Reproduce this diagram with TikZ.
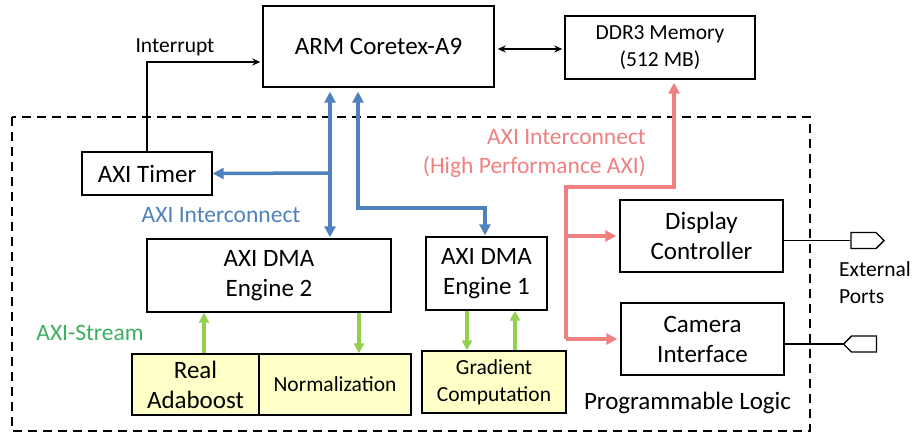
\documentclass[tikz,border=0pt]{standalone}
\usepackage{fontspec}
\setmainfont{Carlito}
\usetikzlibrary{arrows.meta,shapes.symbols}
\usepackage{xcolor}
\definecolor{axiBlue}{RGB}{79,129,189}
\definecolor{hpRed}{RGB}{240,128,128}
\definecolor{streamGreen}{RGB}{146,208,80}
\definecolor{streamText}{RGB}{60,175,95}
\definecolor{accelYellow}{RGB}{255,255,200}
\newcommand\blkfont{\fontsize{25}{30}\selectfont}
\newcommand\midfont{\fontsize{23.5}{29}\selectfont}
\newcommand\smlfont{\fontsize{21.5}{27}\selectfont}

\begin{document}
\begin{tikzpicture}[x=1pt,y=-1pt,
    blk/.style={draw,line width=1.4pt,fill=white,align=center,inner sep=0pt,font=\blkfont},
    accel/.style={blk,fill=accelYellow},
    port/.style={draw,line width=1.4pt,signal,signal from=nowhere,inner sep=0pt,
        minimum width=33pt,minimum height=16pt},
    sig/.style={line width=1.4pt,>={Stealth[length=8pt,width=7pt]}},
    axi/.style={draw=axiBlue,line width=3.5pt,>={Triangle[length=11pt,width=11pt]}},
    hp/.style={draw=hpRed,line width=3.5pt,>={Triangle[length=11pt,width=11pt]}},
    stream/.style={draw=streamGreen,line width=3.2pt,>={Triangle[length=10pt,width=10pt]}}]
    \useasboundingbox (0,0) rectangle (912,432);
    % programmable logic region
    \draw[line width=1.6pt,dash pattern=on 9pt off 6pt] (12,117) rectangle (810,431);
    % blocks
    \node[blk,minimum width=231pt,minimum height=81pt] (arm) at (378.5,46.5) {ARM Coretex-A9};
    \node[blk,font=\smlfont,minimum width=190pt,minimum height=63pt] (ddr) at (660,47.5) {DDR3 Memory\\(512 MB)};
    \node[blk,minimum width=130pt,minimum height=43pt] (timer) at (147,173.5) {AXI Timer};
    \node[blk,minimum width=244pt,minimum height=73pt] (dma2) at (269,275.5) {AXI DMA\\Engine 2};
    \node[blk,minimum width=121pt,minimum height=73pt] (dma1) at (486.5,273.5) {AXI DMA\\Engine 1};
    \node[accel,minimum width=127pt,minimum height=61pt] (ada) at (195.5,384.5) {Real\\Adaboost};
    \node[accel,font=\smlfont,minimum width=152pt,minimum height=61pt] (norm) at (335,384.5) {Normalization};
    \node[accel,font=\smlfont,minimum width=144pt,minimum height=62pt] (grad) at (494,382) {Gradient\\Computation};
    \node[blk,minimum width=163pt,minimum height=72pt] (disp) at (701.5,236) {Display\\Controller};
    \node[blk,minimum width=163pt,minimum height=72pt] (cam) at (702.5,339) {Camera\\Interface};
    \node[port,signal to=east] (port1) at (863.5,240.5) {};
    \node[port,signal to=west] (port2) at (864,344) {};
    % labels
    \node[font=\smlfont] (irqlbl) at (175,47) {Interrupt};
    \node[font=\midfont,text=axiBlue] (axilbl) at (221,215) {AXI Interconnect};
    \node[font=\midfont,text=hpRed,align=right,anchor=east,inner sep=0pt] (hplbl) at (646,153.5) {AXI Interconnect\\(High Performance AXI)};
    \node[font=\midfont,text=streamText] (strlbl) at (90,333) {AXI-Stream};
    \node[font=\smlfont,align=left,anchor=west,inner sep=0pt] (extlbl) at (839,282.5) {External\\Ports};
    \node[font=\blkfont] (pllbl) at (687.5,403) {Programmable Logic};
    % processor side
    \draw[sig,<->,shorten <=3pt,shorten >=2pt] (arm.east |- 0,49) -- (ddr.west |- 0,49);
    \coordinate (irq) at (147,62);
    \draw[sig,->,shorten >=2pt] (timer.north) -- (irq) -- (irq -| arm.west);
    % general purpose AXI
    \coordinate (tap) at (330,173);
    \draw[axi,<->,shorten <=4pt,shorten >=1pt] (arm.south -| tap) -- (tap) -- (dma2.north -| tap);
    \draw[axi,->] (tap) -- (timer.east);
    \coordinate (turn) at (358,208);
    \coordinate (turn2) at (485,208);
    \draw[axi,<->,shorten <=4pt,shorten >=1pt] (arm.south -| turn) -- (turn) -- (turn2) -- (dma1.north -| turn2);
    % streams
    \draw[stream,->] ([xshift=8.5pt]ada.north) -- ([xshift=8.5pt]ada.north |- dma2.south);
    \draw[stream,->] ([xshift=24pt]norm.north |- dma2.south) -- ([xshift=24pt]norm.north);
    \draw[stream,->] ([xshift=-19.5pt]dma1.south) -- ([xshift=-19.5pt]dma1.south |- grad.north);
    \draw[stream,->] ([xshift=28.5pt]dma1.south |- grad.north) -- ([xshift=28.5pt]dma1.south);
    % high performance AXI
    \coordinate (hpbus) at (566,187);
    \coordinate (hpup) at (674,187);
    \draw[hp,->,shorten >=3pt] (cam.west -| hpbus) -- (hpbus) -- (hpup) -- (hpup |- ddr.south);
    \draw[hp,->,shorten >=3pt] (disp.west -| hpbus) -- (disp.west);
    \draw[hp,->,shorten >=3pt] (cam.west -| hpbus) -- (cam.west);
    % external ports
    \draw[sig] (disp.east |- port1) -- (port1.west);
    \draw[sig] (cam.east |- port2) -- (port2.west);
\end{tikzpicture}
\end{document}
